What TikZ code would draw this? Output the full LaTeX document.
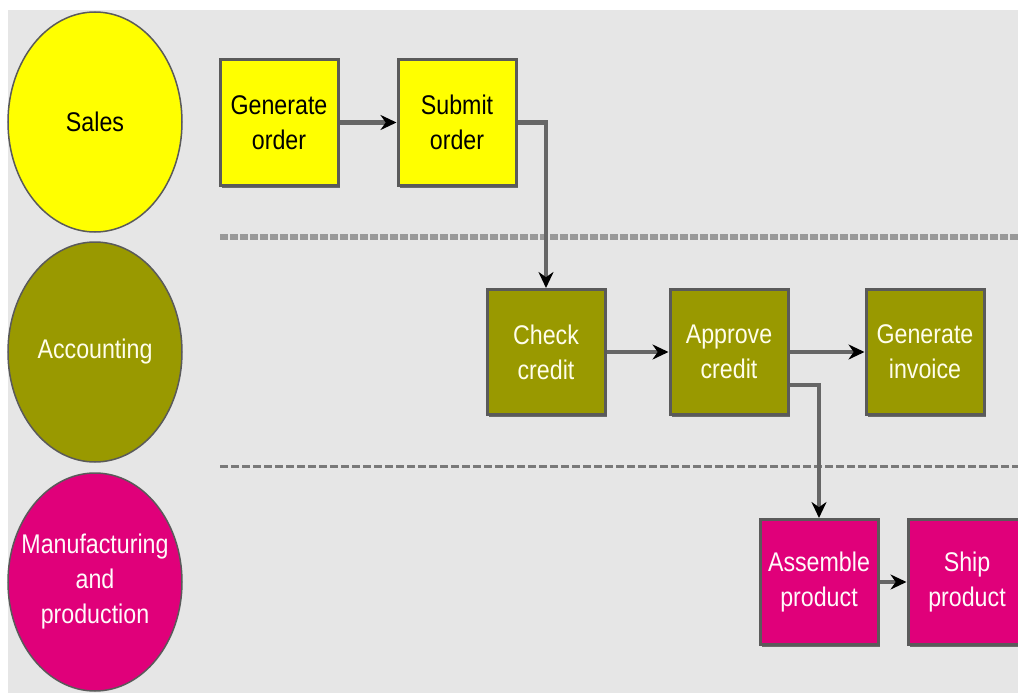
\documentclass[tikz,border=0pt]{standalone}
\usepackage{fontspec}
\setmainfont{Liberation Sans}[FakeStretch=0.86]
\usetikzlibrary{shapes.geometric,arrows.meta}
\definecolor{bgray}{HTML}{E6E6E6}
\definecolor{salesY}{HTML}{FFFF00}
\definecolor{acctO}{HTML}{999900}
\definecolor{mfgM}{HTML}{E0007A}
\definecolor{edgeG}{HTML}{5A5A5A}
\definecolor{lineG}{HTML}{666666}
\begin{document}
\begin{tikzpicture}[x=1pt,y=-1pt,
  lbl/.style={font=\fontsize{27}{35}\selectfont, align=center, inner sep=0pt},
  lane/.style={ellipse, draw=edgeG, line width=1.5pt, minimum width=174pt, minimum height=220pt, inner sep=0pt},
  task/.style={rectangle, draw=edgeG, line width=3pt, minimum width=118pt, minimum height=125pt, lbl},
  arr/.style={draw=lineG, line width=4.5pt, -{Stealth[length=16pt,width=15pt,black]}},
  sep/.style={line width=6pt, draw=gray!80, dash pattern=on 8pt off 2pt},
  septhin/.style={line width=3pt, draw=gray!95!black, dash pattern=on 8pt off 3pt}]
\useasboundingbox (0,0) rectangle (1018,693);
\fill[white] (0,0) rectangle (1018,693);
\fill[bgray] (8,10) rectangle (1018,693);

% lane separators
\draw[sep] (220,237) -- (1018,237);
\draw[septhin] (220,466) -- (1018,466);

% lanes
\node[lane, fill=salesY] (sales) at (95,122) {};
\node[lbl, text=black] (salesT) at (sales) {Sales};
\node[lane, fill=acctO] (acct) at (95,352) {};
\node[lbl, text=white!92!yellow] (acctT) at (acct) {Accounting};
\node[lane, fill=mfgM, minimum height=218pt] (mfg) at (95,582) {};
\node[lbl, text=white!92!pink] (mfgT) at (mfg) {Manufacturing\\and\\production};

% shadows under the task boxes
\foreach \cx/\cy in {279/122.5, 457/122.5, 546/352, 729/352, 925/352, 819/582, 967/582}
  \fill[edgeG!90] (\cx-57,\cy-60) rectangle (\cx+61,\cy+65);

% tasks
\node[task, fill=salesY, text=black] (gen) at (279,122.5) {Generate\\order};
\node[task, fill=salesY, text=black] (sub) at (457,122.5) {Submit\\order};
\node[task, fill=acctO, text=white!92!yellow] (check) at (546,352) {Check\\credit};
\node[task, fill=acctO, text=white!92!yellow] (appr) at (729,352) {Approve\\credit};
\node[task, fill=acctO, text=white!92!yellow] (inv) at (925,352) {Generate\\invoice};
\node[task, fill=mfgM, text=white!92!pink] (asm) at (819,582) {Assemble\\product};
\node[task, fill=mfgM, text=white!92!pink] (ship) at (967,582) {Ship\\product};

% flow
\draw[arr] (gen) -- (sub);
\draw[arr] (sub.east) -| (check.north);
\draw[arr] (check) -- (appr);
\draw[arr] (appr) -- (inv);
\draw[arr] ([yshift=-33pt]appr.east) -| (asm.north);
\draw[arr] (asm) -- (ship);
\end{tikzpicture}
\end{document}
